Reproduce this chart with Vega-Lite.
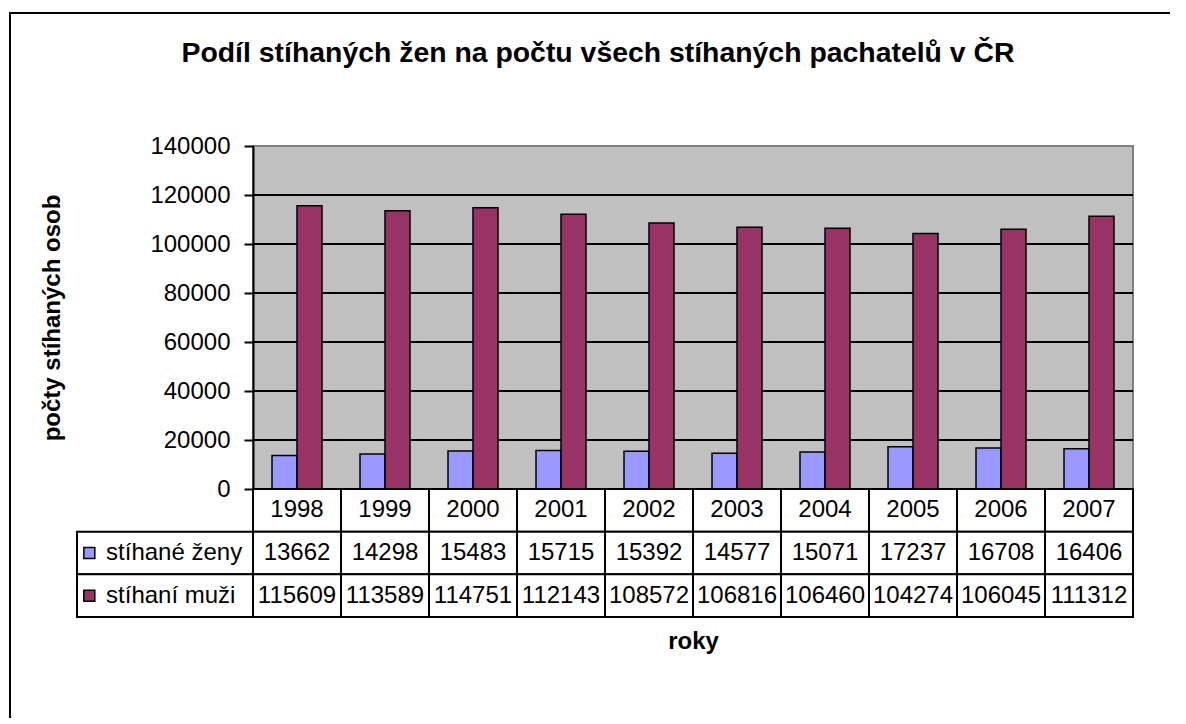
{
  "$schema": "https://vega.github.io/schema/vega-lite/v6.json",
  "width": 1200,
  "height": 735,
  "autosize": {"type": "none"},
  "padding": {"left": 10, "top": 13, "right": -40, "bottom": -30},
  "background": "white",
  "config": {
    "font": "Liberation Sans",
    "view": {"stroke": "black", "strokeWidth": 2}
  },
  "title": {
    "text": "Podíl stíhaných žen na počtu všech stíhaných pachatelů v ČR",
    "fontSize": 28.4,
    "fontWeight": "bold",
    "color": "black",
    "anchor": "middle",
    "frame": "group",
    "baseline": "alphabetic",
    "offset": 0,
    "dy": 77,
    "dx": -12
  },
  "data": {
    "values": [
      {"rok": "1998", "serie": "stíhané ženy", "pocet": 13662},
      {"rok": "1999", "serie": "stíhané ženy", "pocet": 14298},
      {"rok": "2000", "serie": "stíhané ženy", "pocet": 15483},
      {"rok": "2001", "serie": "stíhané ženy", "pocet": 15715},
      {"rok": "2002", "serie": "stíhané ženy", "pocet": 15392},
      {"rok": "2003", "serie": "stíhané ženy", "pocet": 14577},
      {"rok": "2004", "serie": "stíhané ženy", "pocet": 15071},
      {"rok": "2005", "serie": "stíhané ženy", "pocet": 17237},
      {"rok": "2006", "serie": "stíhané ženy", "pocet": 16708},
      {"rok": "2007", "serie": "stíhané ženy", "pocet": 16406},
      {"rok": "1998", "serie": "stíhaní muži", "pocet": 115609},
      {"rok": "1999", "serie": "stíhaní muži", "pocet": 113589},
      {"rok": "2000", "serie": "stíhaní muži", "pocet": 114751},
      {"rok": "2001", "serie": "stíhaní muži", "pocet": 112143},
      {"rok": "2002", "serie": "stíhaní muži", "pocet": 108572},
      {"rok": "2003", "serie": "stíhaní muži", "pocet": 106816},
      {"rok": "2004", "serie": "stíhaní muži", "pocet": 106460},
      {"rok": "2005", "serie": "stíhaní muži", "pocet": 104274},
      {"rok": "2006", "serie": "stíhaní muži", "pocet": 106045},
      {"rok": "2007", "serie": "stíhaní muži", "pocet": 111312}
    ]
  },
  "resolve": {"scale": {"y": "independent"}, "axis": {"y": "independent"}},
  "layer": [
    {
      "layer": [
        {
          "data": {"values": [{}]},
          "mark": {"type": "rect", "fill": "#C0C0C0", "stroke": "#808080", "strokeWidth": 2},
          "encoding": {
            "x": {"datum": "1998", "type": "nominal", "bandPosition": 0},
            "x2": {"datum": "2007", "bandPosition": 1},
            "y": {"datum": 0, "type": "quantitative"},
            "y2": {"datum": 140000}
          }
        },
        {
          "data": {"values": [{"g": 20000}, {"g": 40000}, {"g": 60000}, {"g": 80000}, {"g": 100000}, {"g": 120000}]},
          "mark": {"type": "rule", "color": "black", "strokeWidth": 2},
          "encoding": {
            "x": {"datum": "1998", "type": "nominal", "bandPosition": 0},
            "x2": {"datum": "2007", "bandPosition": 1},
            "y": {"field": "g", "type": "quantitative"}
          }
        },
        {
          "mark": {"type": "bar", "stroke": "black", "strokeWidth": 1.5},
          "encoding": {
            "x": {
              "field": "rok",
              "type": "nominal",
              "scale": {
                "type": "band",
                "domain": ["k1", "k2", "1998", "1999", "2000", "2001", "2002", "2003", "2004", "2005", "2006", "2007"],
                "range": [67, 1123],
                "paddingInner": 0,
                "paddingOuter": 0
              },
              "axis": {
                "labels": false,
                "ticks": false,
                "domain": false,
                "grid": false,
                "title": "roky",
                "titleFontSize": 24,
                "titleFontWeight": "bold",
                "titleColor": "black",
                "titleX": 683,
                "titleY": -100,
                "titleAlign": "center",
                "titleBaseline": "alphabetic"
              }
            },
            "xOffset": {
              "field": "serie",
              "type": "nominal",
              "scale": {"domain": ["stíhané ženy", "stíhaní muži"], "paddingInner": 0, "paddingOuter": 0.76}
            },
            "y": {
              "field": "pocet",
              "type": "quantitative",
              "scale": {"domain": [0, 140000], "range": [476, 133], "nice": false, "zero": true},
              "axis": {
                "offset": -243,
                "values": [0, 20000, 40000, 60000, 80000, 100000, 120000, 140000],
                "format": "d",
                "grid": false,
                "tickSize": 9,
                "tickWidth": 2,
                "tickColor": "black",
                "domainColor": "black",
                "domainWidth": 2,
                "labelFontSize": 24,
                "labelColor": "black",
                "labelPadding": 14,
                "title": "počty stíhaných osob",
                "titleFontSize": 24,
                "titleFontWeight": "bold",
                "titleColor": "black",
                "titlePadding": 85,
                "zindex": 1
              }
            },
            "color": {
              "field": "serie",
              "type": "nominal",
              "scale": {"domain": ["stíhané ženy", "stíhaní muži"], "range": ["#9999FF", "#993366"]},
              "legend": null
            }
          }
        }
      ]
    },
    {
      "layer": [
        {
          "transform": [{"filter": "datum.serie === 'stíhané ženy'"}],
          "mark": {"type": "rect", "fill": "white", "stroke": "black", "strokeWidth": 2},
          "encoding": {
            "x": {"field": "rok", "type": "nominal"},
            "y": {
              "datum": "rok",
              "type": "nominal",
              "scale": {"type": "band", "domain": ["rok", "stíhané ženy", "stíhaní muži"], "range": [476, 604], "paddingInner": 0, "paddingOuter": 0},
              "axis": null
            }
          }
        },
        {
          "mark": {"type": "rect", "fill": "white", "stroke": "black", "strokeWidth": 2},
          "encoding": {
            "x": {"field": "rok", "type": "nominal"},
            "y": {"field": "serie", "type": "nominal"}
          }
        },
        {
          "transform": [{"filter": "datum.rok === '1998'"}],
          "mark": {"type": "rect", "fill": "white", "stroke": "black", "strokeWidth": 2},
          "encoding": {
            "x": {"datum": "k1", "type": "nominal", "bandPosition": 0},
            "x2": {"datum": "k2", "bandPosition": 1},
            "y": {"field": "serie", "type": "nominal"}
          }
        },
        {
          "transform": [{"filter": "datum.serie === 'stíhané ženy'"}],
          "mark": {"type": "text", "fontSize": 24, "color": "black", "align": "center", "baseline": "middle"},
          "encoding": {
            "x": {"field": "rok", "type": "nominal"},
            "y": {"datum": "rok", "type": "nominal"},
            "text": {"field": "rok"}
          }
        },
        {
          "mark": {"type": "text", "fontSize": 24, "color": "black", "align": "center", "baseline": "middle"},
          "encoding": {
            "x": {"field": "rok", "type": "nominal"},
            "y": {"field": "serie", "type": "nominal"},
            "text": {"field": "pocet", "type": "quantitative", "format": "d"}
          }
        },
        {
          "transform": [{"filter": "datum.rok === '1998'"}],
          "mark": {"type": "point", "shape": "square", "filled": true, "size": 120, "stroke": "black", "strokeWidth": 1.5, "opacity": 1},
          "encoding": {
            "x": {"datum": "k1", "type": "nominal", "bandPosition": 0.14},
            "y": {"field": "serie", "type": "nominal"},
            "color": {"field": "serie", "type": "nominal", "legend": null}
          }
        },
        {
          "transform": [{"filter": "datum.rok === '1998'"}],
          "mark": {"type": "text", "fontSize": 24, "color": "black", "align": "left", "baseline": "middle"},
          "encoding": {
            "x": {"datum": "k1", "type": "nominal", "bandPosition": 0.33},
            "y": {"field": "serie", "type": "nominal"},
            "text": {"field": "serie"}
          }
        }
      ]
    }
  ]
}
